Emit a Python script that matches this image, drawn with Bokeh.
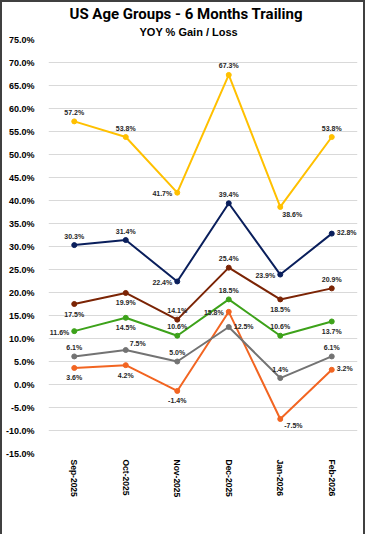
import math
from bokeh.plotting import figure
from bokeh.core.properties import value
from bokeh.models import (ColumnDataSource, LabelSet, Range1d, Legend, LegendItem,
                          Title, FixedTicker, PrintfTickFormatter)
from bokeh.embed import file_html
from bokeh.resources import INLINE

# ---------------- data ----------------
months = ["Sep-2025", "Oct-2025", "Nov-2025", "Dec-2025", "Jan-2026", "Feb-2026"]
groups = ["0-29", "30-39", "40-49", "50-59", "60-69", "70+"]

age_0_29 = [3.6, 4.2, -1.4, 15.8, -7.5, 3.2]
age_30_39 = [6.1, 7.5, 5.0, 12.5, 1.4, 6.1]
age_40_49 = [11.6, 14.5, 10.6, 18.5, 10.6, 13.7]
age_50_59 = [17.5, 19.9, 14.1, 25.4, 18.5, 20.9]
age_60_69 = [30.3, 31.4, 22.4, 39.4, 23.9, 32.8]
age_70_plus = [57.2, 53.8, 41.7, 67.3, 38.6, 53.8]

y_ticks = [-15, -10, -5, 0, 5, 10, 15, 20, 25, 30, 35, 40, 45, 50, 55, 60, 65, 70, 75]

series_values = [age_0_29, age_30_39, age_40_49, age_50_59, age_60_69, age_70_plus]

# ---------------- styles ----------------
colors = ["#F26522", "#737373", "#3DA21A", "#7B2405", "#0A1F5C", "#FFC000"]

# label placement per point (a=above, b=below, l=left, r=right, ar/br=diagonal)
placements = [
    ["b", "b", "b", "l", "br", "r"],
    ["a", "ar", "a", "r", "a", "a"],
    ["l", "b", "a", "a", "a", "b"],
    ["b", "b", "a", "a", "b", "a"],
    ["a", "a", "l", "a", "l", "r"],
    ["a", "a", "l", "a", "brc", "a"],
]
place_map = {
    "a": (0, 9, "center"),
    "b": (0, -10, "center"),
    "l": (-5, -1, "right"),
    "r": (5, 1, "left"),
    "ar": (4, 7, "left"),
    "br": (4, -6, "left"),
    "brc": (12, -8, "center"),
}

FONT = "Liberation Sans"

p = figure(x_range=months, y_range=Range1d(-15, 75),
           frame_width=309, frame_height=414, output_backend="svg", toolbar_location=None,
           min_border_left=35, min_border_right=6, min_border_top=0, min_border_bottom=0)
p.styles = {"border": "2px solid #404040"}

p.add_layout(Title(text="YOY % Gain / Loss", align="left", text_font=FONT,
                   text_font_size="11px", text_font_style="bold", text_color="#000000",
                   offset=91, standoff=3), "above")
p.add_layout(Title(text="US Age Groups - 6 Months Trailing", align="left", text_font="Roboto",
                   text_font_size="15px", text_font_style="bold", text_color="#000000",
                   offset=21, standoff=0), "above")

p.outline_line_color = None
p.xgrid.grid_line_color = None
p.ygrid.grid_line_color = "#D9D9D9"
p.ygrid.grid_line_width = 1

p.yaxis.ticker = FixedTicker(ticks=y_ticks)
p.yaxis.formatter = PrintfTickFormatter(format="%.1f%%")
p.yaxis.axis_line_color = None
p.yaxis.major_tick_line_color = None
p.yaxis.minor_tick_line_color = None
p.yaxis.major_label_text_font = FONT
p.yaxis.major_label_text_font_size = "9px"
p.yaxis.major_label_text_font_style = "bold"
p.yaxis.major_label_text_color = "#000000"
p.yaxis.major_label_standoff = 8

p.xaxis.axis_line_color = None
p.xaxis.major_tick_line_color = None
p.xaxis.major_tick_out = 0
p.xaxis.major_tick_in = 0
p.xaxis.major_label_orientation = -math.pi / 2
p.xaxis.major_label_text_font = FONT
p.xaxis.major_label_text_font_size = "8.5px"
p.xaxis.major_label_text_font_style = "bold"
p.xaxis.major_label_text_color = "#000000"
p.xaxis.major_label_standoff = 6

items = []
label_groups = []
for name, vals, col, plc in zip(groups, series_values, colors, placements):
    ln = p.line(months, vals, line_color=col, line_width=2)
    sc = p.scatter(months, vals, size=5, fill_color=col, line_color=col)
    items.append(LegendItem(label=name, renderers=[ln, sc]))
    for key in sorted(set(plc)):
        idx = [i for i, k in enumerate(plc) if k == key]
        label_groups.append((key, ColumnDataSource(dict(
            x=[months[i] for i in idx], y=[vals[i] for i in idx],
            t=["%.1f%%" % vals[i] for i in idx]))))

for key, s in label_groups:
    xo, yo, al = place_map[key]
    p.add_layout(LabelSet(x="x", y="y", text="t", source=s, x_offset=xo, y_offset=yo,
                          text_align=al, text_baseline="middle", text_font=value(FONT),
                          text_font_size="7px", text_font_style="bold", text_color="#262626"))

legend = Legend(items=items, orientation="horizontal", location="center",
                label_text_font=FONT, label_text_font_size="7px", label_text_color="#595959",
                glyph_width=18, glyph_height=8, label_height=8, label_standoff=1, spacing=7,
                padding=1, margin=2, border_line_color=None, background_fill_alpha=0)
p.add_layout(legend, "below")

open("out.html", "w").write(file_html(p, INLINE))
